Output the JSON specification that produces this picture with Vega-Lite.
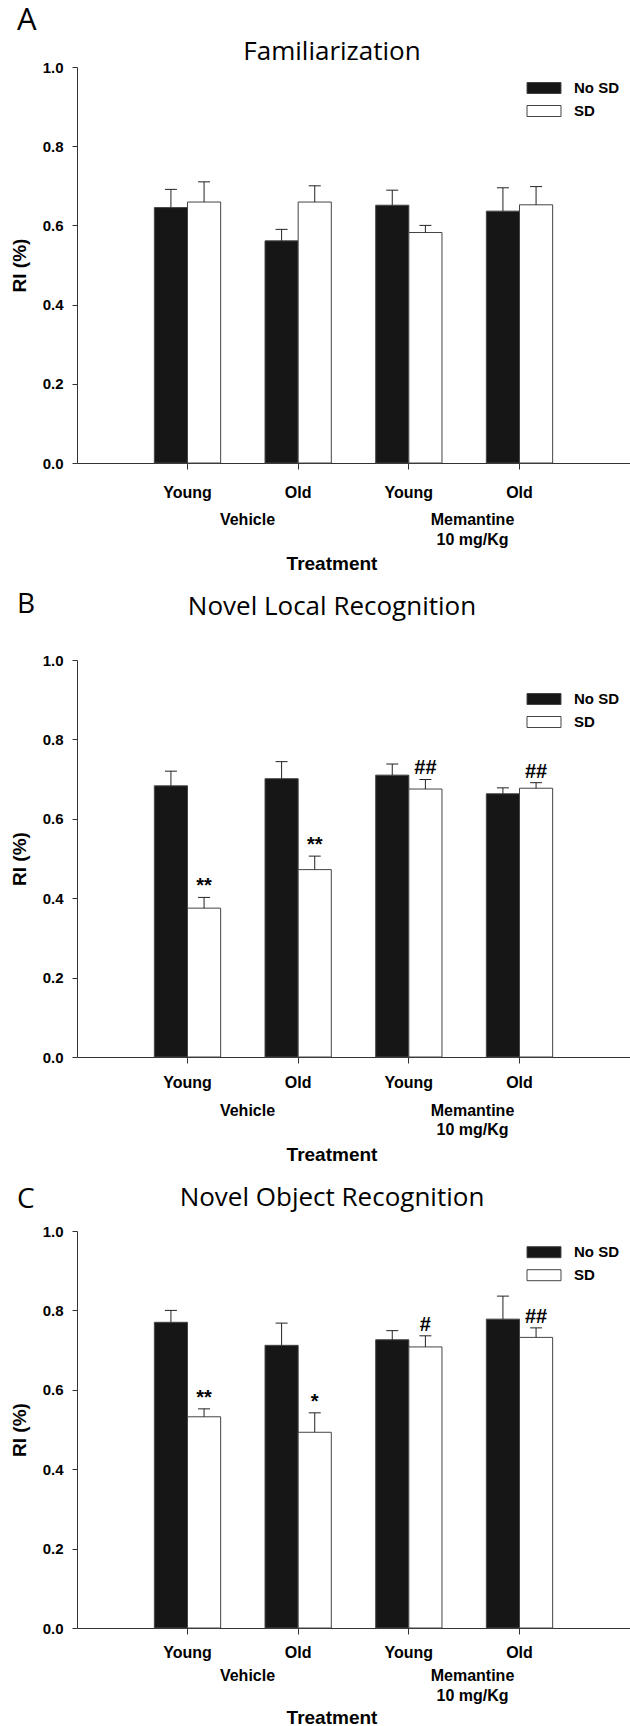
{
  "$schema": "https://vega.github.io/schema/vega-lite/v6.json",
  "autosize": {"type": "none"},
  "padding": {"left": 77, "top": 67, "right": 553, "bottom": 1659},
  "background": "white",
  "bounds": "flush",
  "spacing": 174,
  "datasets": {
    "famil": [
      {"grp": "Vehicle|Young", "cond": "No SD", "value": 0.645, "err_hi": 0.691, "annot": ""},
      {"grp": "Vehicle|Young", "cond": "SD", "value": 0.659, "err_hi": 0.710, "annot": ""},
      {"grp": "Vehicle|Old", "cond": "No SD", "value": 0.561, "err_hi": 0.590, "annot": ""},
      {"grp": "Vehicle|Old", "cond": "SD", "value": 0.659, "err_hi": 0.700, "annot": ""},
      {"grp": "Memantine|Young", "cond": "No SD", "value": 0.651, "err_hi": 0.689, "annot": ""},
      {"grp": "Memantine|Young", "cond": "SD", "value": 0.582, "err_hi": 0.600, "annot": ""},
      {"grp": "Memantine|Old", "cond": "No SD", "value": 0.636, "err_hi": 0.695, "annot": ""},
      {"grp": "Memantine|Old", "cond": "SD", "value": 0.652, "err_hi": 0.698, "annot": ""}
    ],
    "nlr": [
      {"grp": "Vehicle|Young", "cond": "No SD", "value": 0.683, "err_hi": 0.720, "annot": ""},
      {"grp": "Vehicle|Young", "cond": "SD", "value": 0.375, "err_hi": 0.402, "annot": "**"},
      {"grp": "Vehicle|Old", "cond": "No SD", "value": 0.701, "err_hi": 0.744, "annot": ""},
      {"grp": "Vehicle|Old", "cond": "SD", "value": 0.472, "err_hi": 0.506, "annot": "**"},
      {"grp": "Memantine|Young", "cond": "No SD", "value": 0.710, "err_hi": 0.738, "annot": ""},
      {"grp": "Memantine|Young", "cond": "SD", "value": 0.675, "err_hi": 0.699, "annot": "##"},
      {"grp": "Memantine|Old", "cond": "No SD", "value": 0.663, "err_hi": 0.678, "annot": ""},
      {"grp": "Memantine|Old", "cond": "SD", "value": 0.677, "err_hi": 0.691, "annot": "##"}
    ],
    "nor": [
      {"grp": "Vehicle|Young", "cond": "No SD", "value": 0.770, "err_hi": 0.800, "annot": ""},
      {"grp": "Vehicle|Young", "cond": "SD", "value": 0.532, "err_hi": 0.552, "annot": "**"},
      {"grp": "Vehicle|Old", "cond": "No SD", "value": 0.712, "err_hi": 0.768, "annot": ""},
      {"grp": "Vehicle|Old", "cond": "SD", "value": 0.493, "err_hi": 0.542, "annot": "*"},
      {"grp": "Memantine|Young", "cond": "No SD", "value": 0.726, "err_hi": 0.749, "annot": ""},
      {"grp": "Memantine|Young", "cond": "SD", "value": 0.708, "err_hi": 0.736, "annot": "#"},
      {"grp": "Memantine|Old", "cond": "No SD", "value": 0.778, "err_hi": 0.836, "annot": ""},
      {"grp": "Memantine|Old", "cond": "SD", "value": 0.732, "err_hi": 0.756, "annot": "##"}
    ],
    "groups": [
      {"treatment": "Vehicle", "label": "Vehicle"},
      {"treatment": "Memantine", "label": "Memantine\n10 mg/Kg"}
    ]
  },
  "vconcat": [
    {
      "width": 553,
      "height": 396,
      "title": {"text": "A", "anchor": "start", "frame": "group", "dx": -60, "offset": -23, "baseline": "alphabetic", "font": "Open Sans", "fontSize": 31, "fontWeight": "normal", "color": "#000000"},
      "layer": [
        {
          "data": {"name": "famil"},
          "encoding": {
            "x": {"field": "grp", "type": "nominal", "sort": null,
              "scale": {"type": "band", "paddingInner": 0.401, "paddingOuter": 0.699},
              "axis": {"title": "Treatment", "labelExpr": "split(datum.label, '|')[1]", "labelAngle": 0, "labelFontSize": 16, "tickSize": 6, "labelPadding": 15, "titleX": 254.5, "titleY": 106, "titleBaseline": "alphabetic", "titleAlign": "center"}},
            "xOffset": {"field": "cond", "type": "nominal", "sort": null},
            "y": {"field": "value", "type": "quantitative",
              "scale": {"domain": [0, 1], "range": [396, 0], "nice": false},
              "axis": {"title": "RI (%)", "values": [0, 0.2, 0.4, 0.6, 0.8, 1], "format": ".1f", "tickSize": 5, "labelPadding": 9, "titlePadding": 13, "labelFlush": false}}
          },
          "layer": [
            {"mark": {"type": "bar", "stroke": "#444444", "strokeWidth": 1},
             "encoding": {"fill": {"field": "cond", "type": "nominal", "sort": null,
               "scale": {"domain": ["No SD", "SD"], "range": ["#161616", "#ffffff"]},
               "legend": {"orient": "none", "legendX": 459.5, "legendY": 13.5}}}},
            {"mark": {"type": "rule", "color": "#222222", "strokeWidth": 1},
             "encoding": {"y2": {"field": "err_hi"}}},
            {"mark": {"type": "tick", "orient": "horizontal", "color": "#222222", "thickness": 1, "size": 12, "opacity": 1},
             "encoding": {"y": {"field": "err_hi", "type": "quantitative"}}},
            {"mark": {"type": "text", "baseline": "alphabetic", "dy": -5, "font": "Liberation Sans", "fontWeight": "bold", "fontSize": 20, "color": "#000000"},
             "encoding": {"y": {"field": "err_hi", "type": "quantitative"}, "text": {"field": "annot", "type": "nominal"}}}
          ]
        },
        {
          "data": {"name": "groups"},
          "mark": {"type": "text", "baseline": "alphabetic", "align": "center", "dy": 62, "lineBreak": "\n", "lineHeight": 19.5, "font": "Liberation Sans", "fontWeight": "bold", "fontSize": 16, "color": "#000000"},
          "encoding": {
            "x": {"field": "treatment", "type": "nominal", "sort": null,
              "scale": {"type": "point", "range": [170.5, 395.5], "padding": 0},
              "axis": {"orient": "top", "domain": false, "ticks": false, "labels": false, "grid": false, "title": "Familiarization", "titleFont": "Open Sans", "titleFontSize": 26, "titleFontWeight": "normal", "titleX": 254.5, "titleY": -8, "titleBaseline": "alphabetic", "titleAlign": "center", "titleAngle": 0}},
            "y": {"datum": 0, "type": "quantitative"},
            "text": {"field": "label", "type": "nominal"}
          }
        }
      ],
      "resolve": {"scale": {"x": "independent"}}
    },
    {
      "width": 553,
      "height": 420,
      "title": {"text": "B", "anchor": "start", "frame": "group", "dx": -60, "offset": -48, "baseline": "alphabetic", "font": "Open Sans", "fontSize": 28, "fontWeight": "normal", "color": "#000000"},
      "layer": [
        {
          "data": {"name": "nlr"},
          "encoding": {
            "x": {"field": "grp", "type": "nominal", "sort": null,
              "scale": {"type": "band", "paddingInner": 0.401, "paddingOuter": 0.699},
              "axis": {"title": "Treatment", "labelExpr": "split(datum.label, '|')[1]", "labelAngle": 0, "labelFontSize": 16, "tickSize": 6, "labelPadding": 11, "titleX": 254.5, "titleY": 103, "titleBaseline": "alphabetic", "titleAlign": "center"}},
            "xOffset": {"field": "cond", "type": "nominal", "sort": null},
            "y": {"field": "value", "type": "quantitative",
              "scale": {"domain": [0, 1], "range": [420, 23], "nice": false},
              "axis": {"title": "RI (%)", "values": [0, 0.2, 0.4, 0.6, 0.8, 1], "format": ".1f", "tickSize": 5, "labelPadding": 9, "titlePadding": 13, "labelFlush": false}}
          },
          "layer": [
            {"mark": {"type": "bar", "stroke": "#444444", "strokeWidth": 1},
             "encoding": {"fill": {"field": "cond", "type": "nominal", "sort": null,
               "scale": {"domain": ["No SD", "SD"], "range": ["#161616", "#ffffff"]},
               "legend": {"orient": "none", "legendX": 459.5, "legendY": 54.5}}}},
            {"mark": {"type": "rule", "color": "#222222", "strokeWidth": 1},
             "encoding": {"y2": {"field": "err_hi"}}},
            {"mark": {"type": "tick", "orient": "horizontal", "color": "#222222", "thickness": 1, "size": 12, "opacity": 1},
             "encoding": {"y": {"field": "err_hi", "type": "quantitative"}}},
            {"mark": {"type": "text", "baseline": "alphabetic", "dy": -5, "font": "Liberation Sans", "fontWeight": "bold", "fontSize": 20, "color": "#000000"},
             "encoding": {"y": {"field": "err_hi", "type": "quantitative"}, "text": {"field": "annot", "type": "nominal"}}}
          ]
        },
        {
          "data": {"name": "groups"},
          "mark": {"type": "text", "baseline": "alphabetic", "align": "center", "dy": 58.5, "lineBreak": "\n", "lineHeight": 19.5, "font": "Liberation Sans", "fontWeight": "bold", "fontSize": 16, "color": "#000000"},
          "encoding": {
            "x": {"field": "treatment", "type": "nominal", "sort": null,
              "scale": {"type": "point", "range": [170.5, 395.5], "padding": 0},
              "axis": {"orient": "top", "domain": false, "ticks": false, "labels": false, "grid": false, "title": "Novel Local Recognition", "titleFont": "Open Sans", "titleFontSize": 26, "titleFontWeight": "normal", "titleX": 254.5, "titleY": -23, "titleBaseline": "alphabetic", "titleAlign": "center", "titleAngle": 0}},
            "y": {"datum": 0, "type": "quantitative"},
            "text": {"field": "label", "type": "nominal"}
          }
        }
      ],
      "resolve": {"scale": {"x": "independent"}}
    },
    {
      "width": 553,
      "height": 397,
      "title": {"text": "C", "anchor": "start", "frame": "group", "dx": -60, "offset": -52, "baseline": "alphabetic", "font": "Open Sans", "fontSize": 28, "fontWeight": "normal", "color": "#000000"},
      "layer": [
        {
          "data": {"name": "nor"},
          "encoding": {
            "x": {"field": "grp", "type": "nominal", "sort": null,
              "scale": {"type": "band", "paddingInner": 0.401, "paddingOuter": 0.699},
              "axis": {"title": "Treatment", "labelExpr": "split(datum.label, '|')[1]", "labelAngle": 0, "labelFontSize": 16, "tickSize": 6, "labelPadding": 10, "titleX": 254.5, "titleY": 95, "titleBaseline": "alphabetic", "titleAlign": "center"}},
            "xOffset": {"field": "cond", "type": "nominal", "sort": null},
            "y": {"field": "value", "type": "quantitative",
              "scale": {"domain": [0, 1], "range": [397, 0], "nice": false},
              "axis": {"title": "RI (%)", "values": [0, 0.2, 0.4, 0.6, 0.8, 1], "format": ".1f", "tickSize": 5, "labelPadding": 9, "titlePadding": 13, "labelFlush": false}}
          },
          "layer": [
            {"mark": {"type": "bar", "stroke": "#444444", "strokeWidth": 1},
             "encoding": {"fill": {"field": "cond", "type": "nominal", "sort": null,
               "scale": {"domain": ["No SD", "SD"], "range": ["#161616", "#ffffff"]},
               "legend": {"orient": "none", "legendX": 459.5, "legendY": 13.7}}}},
            {"mark": {"type": "rule", "color": "#222222", "strokeWidth": 1},
             "encoding": {"y2": {"field": "err_hi"}}},
            {"mark": {"type": "tick", "orient": "horizontal", "color": "#222222", "thickness": 1, "size": 12, "opacity": 1},
             "encoding": {"y": {"field": "err_hi", "type": "quantitative"}}},
            {"mark": {"type": "text", "baseline": "alphabetic", "dy": -5, "font": "Liberation Sans", "fontWeight": "bold", "fontSize": 20, "color": "#000000"},
             "encoding": {"y": {"field": "err_hi", "type": "quantitative"}, "text": {"field": "annot", "type": "nominal"}}}
          ]
        },
        {
          "data": {"name": "groups"},
          "mark": {"type": "text", "baseline": "alphabetic", "align": "center", "dy": 53, "lineBreak": "\n", "lineHeight": 19.5, "font": "Liberation Sans", "fontWeight": "bold", "fontSize": 16, "color": "#000000"},
          "encoding": {
            "x": {"field": "treatment", "type": "nominal", "sort": null,
              "scale": {"type": "point", "range": [170.5, 395.5], "padding": 0},
              "axis": {"orient": "top", "domain": false, "ticks": false, "labels": false, "grid": false, "title": "Novel Object Recognition", "titleFont": "Open Sans", "titleFontSize": 26, "titleFontWeight": "normal", "titleX": 254.5, "titleY": -26, "titleBaseline": "alphabetic", "titleAlign": "center", "titleAngle": 0}},
            "y": {"datum": 0, "type": "quantitative"},
            "text": {"field": "label", "type": "nominal"}
          }
        }
      ],
      "resolve": {"scale": {"x": "independent"}}
    }
  ],
  "resolve": {"scale": {"fill": "independent", "xOffset": "independent"}},
  "config": {
    "view": {"stroke": null},
    "font": "Liberation Sans",
    "axis": {"grid": false, "domainColor": "#333333", "domainWidth": 1, "tickColor": "#333333", "tickWidth": 1,
      "labelFont": "Liberation Sans", "labelFontSize": 15, "labelFontWeight": "bold", "labelColor": "#000000",
      "titleFont": "Liberation Sans", "titleFontSize": 19, "titleFontWeight": "bold", "titleColor": "#000000"},
    "legend": {"title": null, "padding": 0, "symbolType": "M-3.09,-1H3.09V1H-3.09Z", "symbolSize": 121,
      "symbolStrokeColor": "#444444", "symbolStrokeWidth": 1, "symbolOpacity": 1, "labelOffset": 22.5, "rowPadding": 7,
      "labelFont": "Liberation Sans", "labelFontSize": 15, "labelFontWeight": "bold", "labelColor": "#000000"}
  }
}
